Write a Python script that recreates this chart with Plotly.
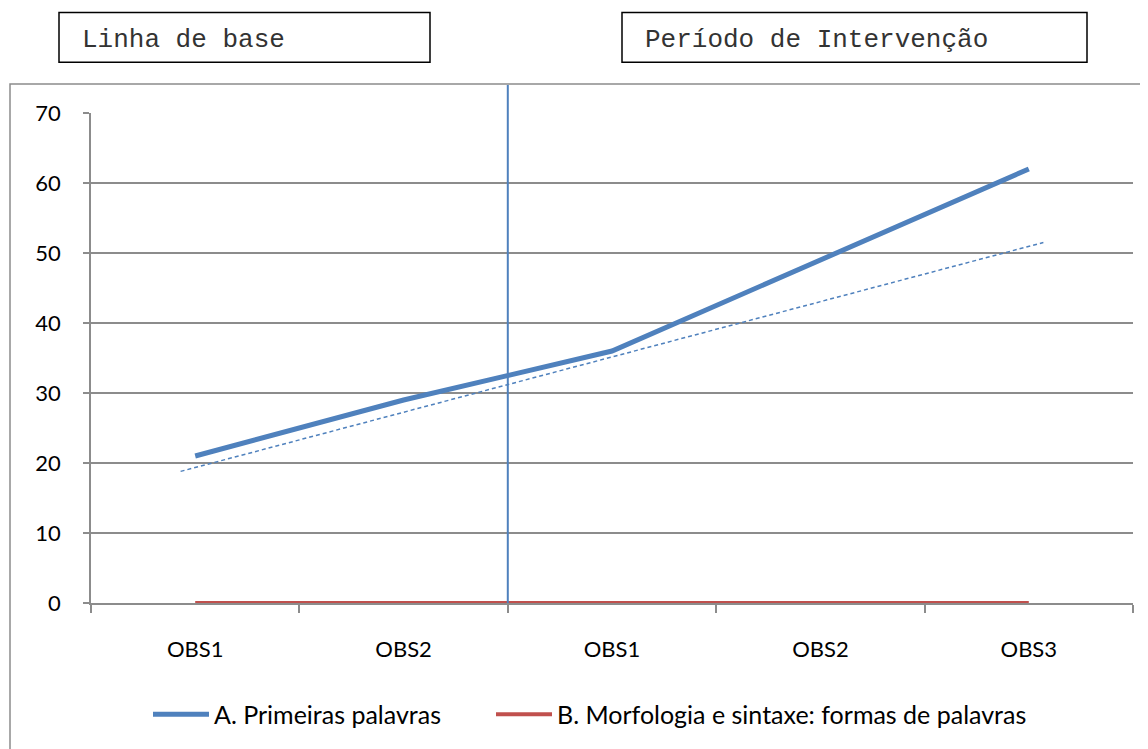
import plotly.graph_objects as go

# ---- data ----
categories = ["OBS1", "OBS2", "OBS1", "OBS2", "OBS3"]
series_a_name = "A. Primeiras palavras"
series_a = [21, 29, 36, 49, 62]
series_b_name = "B. Morfologia e sintaxe: formas de palavras"
series_b = [0, 0, 0, 0, 0]
trend_x = [-0.07, 4.07]
trend_y = [18.8, 51.5]
phase_boundary = 1.5
phase_labels = ["Linha de base", "Período de Intervenção"]
y_ticks = [0, 10, 20, 30, 40, 50, 60, 70]

BLUE = "#4F81BD"
RED = "#C0504D"
GRID = "#8C8C8C"

OFF = 8  # browser body margin
W, H = 1148 - OFF, 749 - OFF
L, R, T, B = 91 - OFF, 1133 - OFF, 113 - OFF, 605 - OFF


def px(p):
    return (p - OFF - L) / (R - L)


def py(p):
    return (B - (p - OFF)) / (B - T)


xs = list(range(len(categories)))

fig = go.Figure()
fig.add_trace(go.Scatter(x=xs, y=series_a, mode="lines", name=series_a_name,
                         line=dict(color=BLUE, width=5), legend="legend"))
fig.add_trace(go.Scatter(x=xs, y=series_b, mode="lines", name=series_b_name,
                         line=dict(color=RED, width=4), legend="legend2"))
fig.add_trace(go.Scatter(x=trend_x, y=trend_y, mode="lines", showlegend=False,
                         line=dict(color=BLUE, width=1.5, dash="4px,3px")))

shapes = [
    # phase separator
    dict(type="line", xref="x", yref="paper", x0=phase_boundary, x1=phase_boundary,
         y0=0, y1=py(85), line=dict(color=BLUE, width=2), layer="above"),
    # outer chart frame
    dict(type="rect", xref="paper", yref="paper", x0=px(10), x1=px(1160),
         y0=py(770), y1=py(84), line=dict(color=GRID, width=1.5), layer="below"),
    # phase label boxes
    dict(type="rect", xref="paper", yref="paper", x0=px(59), x1=px(430),
         y0=py(62), y1=py(12), line=dict(color="#000000", width=1.5)),
    dict(type="rect", xref="paper", yref="paper", x0=px(622), x1=px(1087),
         y0=py(62), y1=py(12), line=dict(color="#000000", width=1.5)),
]

annotations = [
    dict(text=phase_labels[0], xref="paper", yref="paper", x=px(80), y=py(40),
         xanchor="left", yanchor="middle", showarrow=False,
         font=dict(family="Liberation Mono", size=26, color="#333333")),
    dict(text=phase_labels[1], xref="paper", yref="paper", x=px(643), y=py(40),
         xanchor="left", yanchor="middle", showarrow=False,
         font=dict(family="Liberation Mono", size=26, color="#333333")),
]

legend_common = dict(orientation="h", xanchor="left", yanchor="middle", y=py(717),
                     font=dict(family="Lato", size=25, color="#000000"),
                     itemwidth=56, bgcolor="rgba(0,0,0,0)")

fig.update_layout(
    width=W, height=H,
    margin=dict(l=L, r=W - R, t=T, b=H - B, pad=0),
    paper_bgcolor="white", plot_bgcolor="white",
    font=dict(family="Lato", size=22, color="#000000"),
    shapes=shapes, annotations=annotations,
    legend=dict(x=px(148), **legend_common),
    legend2=dict(x=px(491), **legend_common),
    xaxis=dict(range=[-0.5, 4.5], tickmode="array", tickvals=xs, ticktext=categories,
               showgrid=False, zeroline=False, showline=True, linecolor=GRID, linewidth=1.5,
               ticks="outside", ticklen=26, tickcolor="rgba(0,0,0,0)",
               minor=dict(tick0=-0.5, dtick=1, ticks="outside", ticklen=8,
                          tickcolor=GRID, tickwidth=1.5, showgrid=False),
               fixedrange=True),
    yaxis=dict(range=[0, 70], tickmode="array", tickvals=y_ticks,
               showgrid=True, gridcolor=GRID, gridwidth=1.5, zeroline=False,
               showline=True, linecolor=GRID, linewidth=1.5,
               ticks="outside", ticklen=6, tickcolor=GRID, tickwidth=1.5,
               ticklabelstandoff=18, fixedrange=True),
)

fig.write_html("out.html")
